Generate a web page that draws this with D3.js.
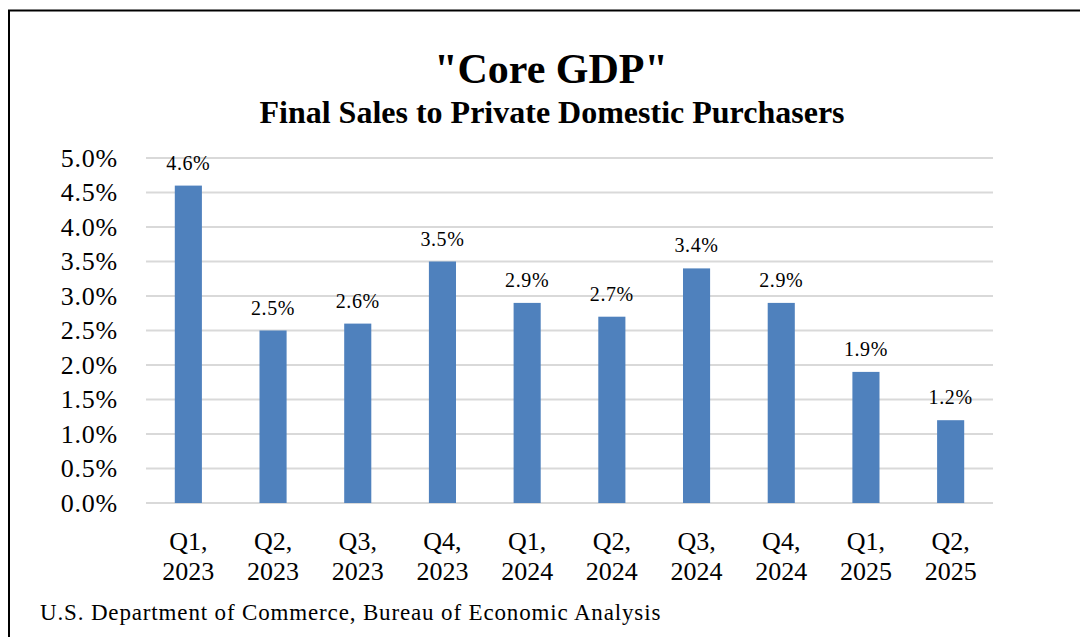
<!DOCTYPE html>
<html>
<head>
<meta charset="utf-8">
<script src="https://cdn.jsdelivr.net/npm/d3@7"></script>
<style>
  body { margin: 0; background: #fff; }
  svg { display: block; font-family: "Liberation Serif", "Times New Roman", serif; }
</style>
</head>
<body>
<script>
// data
const quarters = ["Q1,|2023", "Q2,|2023", "Q3,|2023", "Q4,|2023", "Q1,|2024",
                  "Q2,|2024", "Q3,|2024", "Q4,|2024", "Q1,|2025", "Q2,|2025"];
const growth = [4.6, 2.5, 2.6, 3.5, 2.9, 2.7, 3.4, 2.9, 1.9, 1.2];
const yTicks = [0, 0.5, 1, 1.5, 2, 2.5, 3, 3.5, 4, 4.5, 5];

const title = "\"Core GDP\"";
const subtitle = "Final Sales to Private Domestic Purchasers";
const source = "U.S. Department of Commerce, Bureau of Economic Analysis";

(function app() {
  let W = 1080, H = 637;
  let plot = { left: 146, right: 993, top: 158, bottom: 503 };

  let svg = d3.select("body").append("svg")
    .attr("width", W)
    .attr("height", H);

  // frame
  svg.append("rect")
    .attr("x", 9).attr("y", 10.5)
    .attr("width", W + 20).attr("height", H + 20)
    .attr("fill", "#fff")
    .attr("stroke", "#000")
    .attr("stroke-width", 2);

  svg.append("text")
    .attr("x", 551).attr("y", 83)
    .attr("text-anchor", "middle")
    .attr("font-size", 42)
    .attr("font-weight", "bold")
    .text(title);

  svg.append("text")
    .attr("x", 552).attr("y", 123)
    .attr("text-anchor", "middle")
    .attr("font-size", 32)
    .attr("font-weight", "bold")
    .text(subtitle);

  let x = d3.scaleBand()
    .domain(quarters)
    .range([plot.left, plot.right])
    .paddingInner(0.68)
    .paddingOuter(0.34);

  let y = d3.scaleLinear()
    .domain([0, 5])
    .range([plot.bottom, plot.top]);

  // grid
  svg.append("g").attr("class", "grid")
    .selectAll("line")
    .data(yTicks)
    .enter().append("line")
    .attr("x1", plot.left).attr("x2", plot.right)
    .attr("y1", d => y(d)).attr("y2", d => y(d))
    .attr("stroke", "#d9d9d9")
    .attr("stroke-width", 2);

  // y axis
  let yAxis = d3.axisLeft(y)
    .tickValues(yTicks)
    .tickSize(0)
    .tickPadding(0)
    .tickFormat(d => d.toFixed(1) + "%");
  let ya = svg.append("g")
    .attr("transform", `translate(118,0)`)
    .call(yAxis)
    .attr("font-family", null)
    .attr("font-size", 26);
  ya.select(".domain").remove();
  ya.selectAll("text")
    .attr("fill", "#000")
    .attr("letter-spacing", 0.8);

  // bars
  svg.append("g").attr("class", "bars")
    .selectAll("rect")
    .data(growth)
    .enter().append("rect")
    .attr("x", (d, i) => x(quarters[i]))
    .attr("width", x.bandwidth())
    .attr("y", d => y(d))
    .attr("height", d => y(0) - y(d))
    .attr("fill", "#4f81bd");

  // value labels
  svg.append("g").attr("class", "labels")
    .selectAll("text")
    .data(growth)
    .enter().append("text")
    .attr("x", (d, i) => x(quarters[i]) + x.bandwidth() / 2)
    .attr("y", d => y(d) - 16)
    .attr("text-anchor", "middle")
    .attr("font-size", 20)
    .attr("letter-spacing", 0.6)
    .text(d => d.toFixed(1) + "%");

  // x axis labels (two lines)
  let xl = svg.append("g").attr("class", "xlabels")
    .selectAll("text")
    .data(quarters)
    .enter().append("text")
    .attr("x", d => x(d) + x.bandwidth() / 2)
    .attr("text-anchor", "middle")
    .attr("font-size", 26);
  xl.append("tspan")
    .attr("x", d => x(d) + x.bandwidth() / 2)
    .attr("y", 550)
    .text(d => d.split("|")[0]);
  xl.append("tspan")
    .attr("x", d => x(d) + x.bandwidth() / 2)
    .attr("y", 580)
    .text(d => d.split("|")[1]);

  svg.append("text")
    .attr("x", 40).attr("y", 620)
    .attr("font-size", 23)
    .attr("letter-spacing", 0.85)
    .text(source);
})();
</script>
</body>
</html>
